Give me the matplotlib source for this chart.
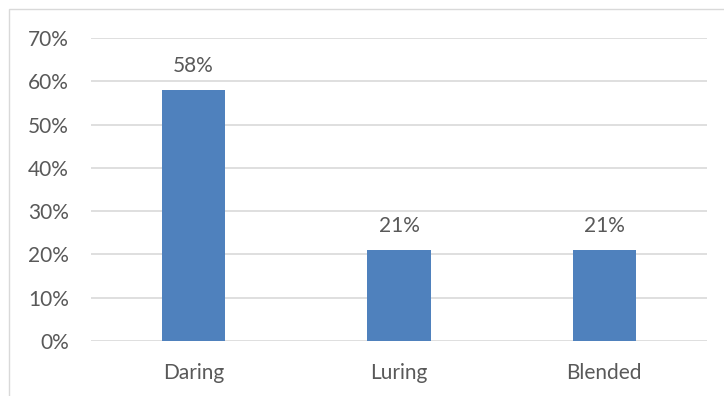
import matplotlib
matplotlib.use("Agg")
import matplotlib.pyplot as plt
from matplotlib.patches import Rectangle
from matplotlib.ticker import PercentFormatter

categories = ["Daring", "Luring", "Blended"]
shares = [0.58, 0.21, 0.21]
yticks = [0.0, 0.1, 0.2, 0.3, 0.4, 0.5, 0.6, 0.7]

bar_color = "#4F81BD"
text_color = "#595959"
grid_color = "#D9D9D9"

plt.rcParams["font.family"] = ["Lato", "DejaVu Sans"]

W, H = 724, 396
fig = plt.figure(figsize=(W / 100, H / 100), dpi=100)

# light chart-area frame
fig.patches.append(Rectangle((9 / W, -0.1), 1.2, 1 - 9 / H + 0.1,
                             transform=fig.transFigure, fill=False,
                             edgecolor=grid_color, linewidth=1))

ax = fig.add_axes([91 / W, 1 - 341 / H, (707 - 91) / W, (341 - 38) / H])
x = list(range(len(categories)))
bars = ax.bar(x, shares, width=0.31, color=bar_color, zorder=3)

ax.set_xlim(-0.5, len(categories) - 0.5)
ax.set_ylim(0, 0.7)
ax.set_yticks(yticks)
ax.yaxis.set_major_formatter(PercentFormatter(1.0, decimals=0))
ax.set_xticks(x)
ax.set_xticklabels(categories)

ax.grid(axis="y", color=grid_color, linewidth=1.2, zorder=0)
for s in ax.spines.values():
    s.set_visible(False)
ax.tick_params(axis="both", length=0, labelsize=15, colors=text_color)
ax.tick_params(axis="y", pad=16)
ax.tick_params(axis="x", pad=16)

for b, v in zip(bars, shares):
    ax.annotate(f"{v:.0%}", (b.get_x() + b.get_width() / 2, v),
                xytext=(0, 17), textcoords="offset points",
                ha="center", va="center", fontsize=15, color=text_color)

fig.savefig("out.png", dpi=100)
